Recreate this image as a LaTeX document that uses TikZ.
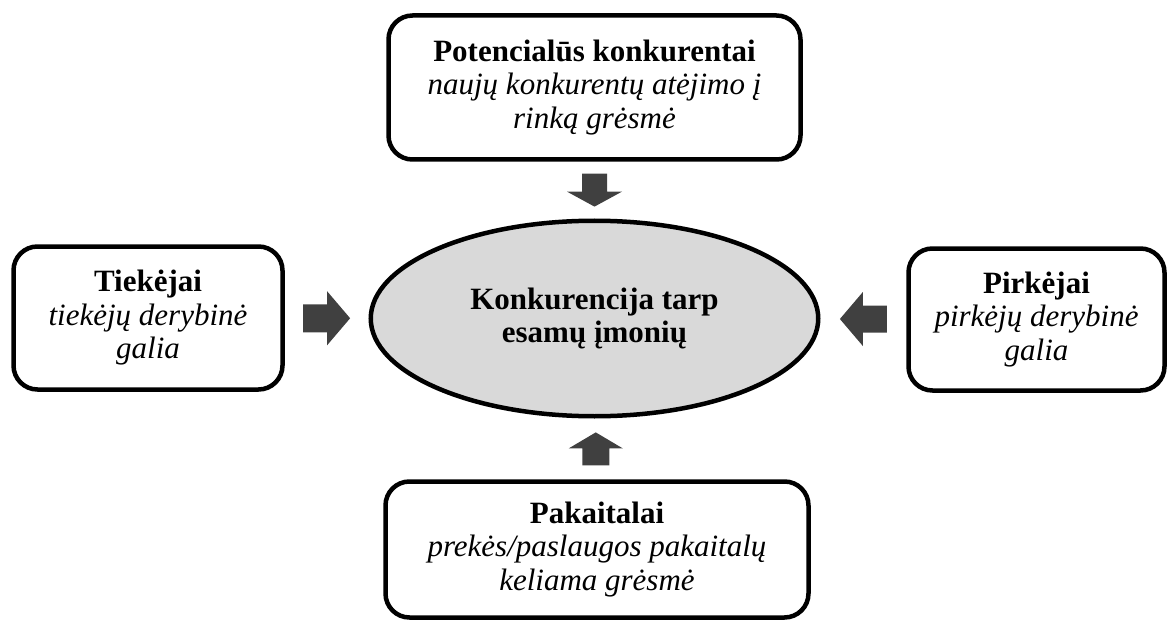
\documentclass[tikz,border=0pt]{standalone}
\usepackage{fontspec}
\setmainfont{Liberation Serif}
\usetikzlibrary{shapes.geometric,calc}

\definecolor{arrowgray}{HTML}{404040}
\definecolor{coregray}{HTML}{D9D9D9}

\tikzset{
  force/.style={draw=black, line width=4.5pt, rounded corners=24pt, fill=white,
    align=center, inner sep=0pt, font=\fontsize{31}{33.5}\selectfont},
  core/.style={ellipse, draw=black, line width=4.5pt, fill=coregray,
    align=center, inner sep=0pt, font=\fontsize{31}{33.5}\selectfont\bfseries},
  % block arrow pointing along +x: length, head length, shaft half width, head half width
  pics/blockarrow/.style n args={4}{code={
    \fill[arrowgray] (-#1/2,-#3) -- (#1/2-#2,-#3) -- (#1/2-#2,-#4) -- (#1/2,0)
      -- (#1/2-#2,#4) -- (#1/2-#2,#3) -- (-#1/2,#3) -- cycle;
  }}
}

\begin{document}
\begin{tikzpicture}[x=1pt,y=-1pt]
\useasboundingbox (0,0) rectangle (1171,623);

% central rivalry
\node[core, minimum width=447.5pt, minimum height=195.5pt] (core) at (594.5,318.5)
  {Konkurencija tarp\\esamų įmonių};

% the four surrounding forces
\node[force, minimum width=412pt, minimum height=144pt] (entrants) at (594.5,87.5)
  {\textbf{Potencialūs konkurentai}\\\textit{naujų konkurentų atėjimo į}\\\textit{rinką grėsmė}};
\node[force, minimum width=269pt, minimum height=143pt] (suppliers) at (148,318)
  {\textbf{Tiekėjai}\\\textit{tiekėjų derybinė}\\\textit{galia}};
\node[force, minimum width=256pt, minimum height=142pt] (buyers) at (1036.5,319.5)
  {\textbf{Pirkėjai}\\\textit{pirkėjų derybinė}\\\textit{galia}};
\node[force, minimum width=423pt, minimum height=136pt] (substitutes) at (597,549.5)
  {\textbf{Pakaitalai}\\\textit{prekės/paslaugos pakaitalų}\\\textit{keliama grėsmė}};

% arrows halfway between each force and the centre
\coordinate (mtop) at ($(entrants.south)!0.5!(core.north)$);
\coordinate (mleft) at ($(suppliers.east)!0.5!(core.west)$);
\coordinate (mright) at ($(buyers.west)!0.5!(core.east)$);
\coordinate (mbottom) at ($(substitutes.north)!0.5!(core.south)$);

\pic[rotate=-90] at (mtop) {blockarrow={33}{15}{12.5}{27.5}};
\pic at (mleft) {blockarrow={47}{23}{14}{27}};
\pic[rotate=180] at (mright) {blockarrow={47}{23}{13.5}{27}};
\pic[rotate=90] at (mbottom) {blockarrow={33}{16}{13.5}{27}};
\end{tikzpicture}
\end{document}
